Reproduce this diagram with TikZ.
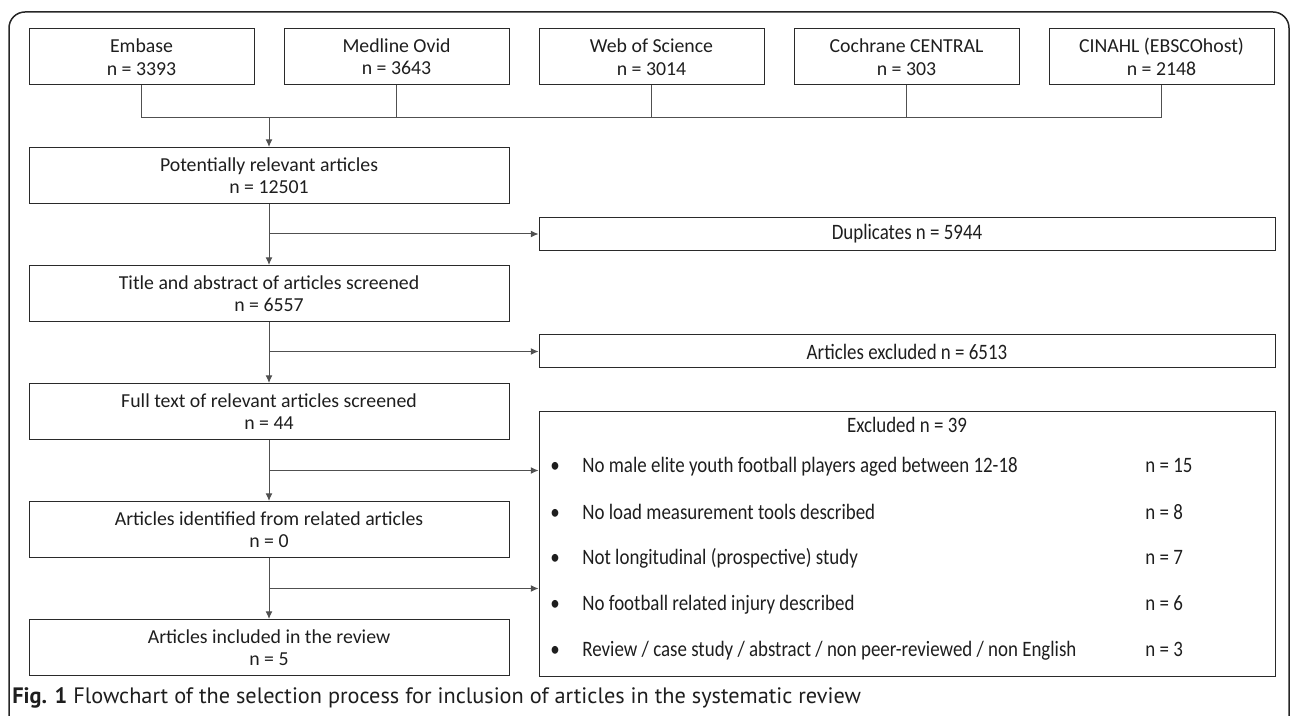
\documentclass[tikz,border=0pt]{standalone}
\usepackage{fontspec}
\setmainfont{Carlito}
\newfontfamily\condfont[FakeStretch=0.86]{Carlito}
\newfontfamily\capfont{PT Sans}
\usetikzlibrary{arrows.meta,calc}
\definecolor{boxline}{HTML}{2A2A2A}
\definecolor{connline}{HTML}{505050}
\definecolor{txt}{HTML}{1E1E1E}
\begin{document}
\begin{tikzpicture}[x=0.5pt,y=-0.5pt,
  every node/.style={text=txt},
  boxbase/.style={draw=boxline,line width=0.5pt,inner sep=0pt,align=center,
    font=\fontsize{9.9}{11.2}\selectfont},
  srcbox/.style={boxbase,minimum width=112.5pt,minimum height=28pt},
  mainbox/.style={boxbase,minimum width=240pt,minimum height=28pt},
  sidebox/.style={boxbase,minimum width=368pt,minimum height=16.5pt,
    font=\fontsize{11}{12}\condfont},
  bigbox/.style={draw=boxline,line width=0.5pt,inner sep=0pt,minimum width=368pt,minimum height=132.25pt},
  itemtxt/.style={inner sep=0pt,anchor=base west,font=\fontsize{11}{12}\condfont},
  conn/.style={draw=connline,line width=0.5pt},
  arr/.style={conn,-{Latex[length=3.8pt,width=3.4pt]}}
]
\useasboundingbox (0,0) rectangle (1290,716);
\clip (0,0) rectangle (1290,716);
% outer frame
\draw[black!85,line width=0.75pt,rounded corners=8pt] (9,730) -- (9,12) -- (1289,12) -- (1289,730);

% source boxes
\node[srcbox] (emb) at (141.5,57) {Embase\\n = 3393};
\node[srcbox] (med) at (396.5,57) {Medline Ovid\\n = 3643};
\node[srcbox] (wos) at (651.5,57) {Web of Science\\n = 3014};
\node[srcbox] (coc) at (906.5,57) {Cochrane CENTRAL\\n = 303};
\node[srcbox] (cin) at (1161.5,57) {CINAHL (EBSCOhost)\\n = 2148};

% main column
\node[mainbox] (pot) at (269,175.5) {Potentially relevant articles\\n = 12501};
\node[mainbox] (tit) at (269,293.5) {Title and abstract of articles screened\\n = 6557};
\node[mainbox] (ful) at (269,411.5) {Full text of relevant articles screened\\n = 44};
\node[mainbox] (rel) at (269,529.5) {Articles identified from related articles\\n = 0};
\node[mainbox] (inc) at (269,647.5) {Articles included in the review\\n = 5};

% side boxes
\node[sidebox] (dup) at (907,234) {Duplicates n = 5944};
\node[sidebox] (exc) at (907,351.5) {Articles excluded n = 6513};
\node[bigbox] (big) at (907,543.75) {};

% big box content
\node[inner sep=0pt,font=\fontsize{11}{12}\condfont] (bighead) at (907,425) {Excluded n = 39};
\foreach \i/\yy/\t/\n in {1/473/{No male elite youth football players aged between 12-18}/15,
                          2/519/{No load measurement tools described}/8,
                          3/564.5/{Not longitudinal (prospective) study}/7,
                          4/610/{No football related injury described}/6,
                          5/656/{Review / case study / abstract / non peer-reviewed / non English}/3}{
  \node[itemtxt] (bul\i) at (550,\yy) {\textbullet};
  \node[itemtxt] (item\i) at (582,\yy) {\t};
  \node[itemtxt] (num\i) at (1145,\yy) {n = \n};
}

% connectors from sources
\coordinate (join) at (269,117.5);
\draw[conn] (emb.south) |- (join -| cin.south) -- (cin.south);
\draw[conn] (med.south) -- (med.south |- join);
\draw[conn] (wos.south) -- (wos.south |- join);
\draw[conn] (coc.south) -- (coc.south |- join);
\draw[arr] (join) -- (pot.north);

% vertical flow
\draw[arr] (pot.south) -- (tit.north);
\draw[arr] (tit.south) -- (ful.north);
\draw[arr] (ful.south) -- (rel.north);
\draw[arr] (rel.south) -- (inc.north);

% side arrows
\coordinate (c1) at (pot.south |- dup.west);
\draw[arr] (c1) -- (dup.west);
\coordinate (c2) at (tit.south |- exc.west);
\draw[arr] (c2) -- (exc.west);
\coordinate (c3) at ($(ful.south)!0.5!(rel.north)$);
\draw[arr] (c3) -- (c3 -| big.west);
\coordinate (c4) at ($(rel.south)!0.5!(inc.north)$);
\draw[arr] (c4) -- (c4 -| big.west);

% caption
\node[anchor=base west,inner sep=0pt,font=\fontsize{11.15}{12}\capfont] (cap) at (12,703)
  {\textbf{Fig. 1} Flowchart of the selection process for inclusion of articles in the systematic review};
\end{tikzpicture}
\end{document}
